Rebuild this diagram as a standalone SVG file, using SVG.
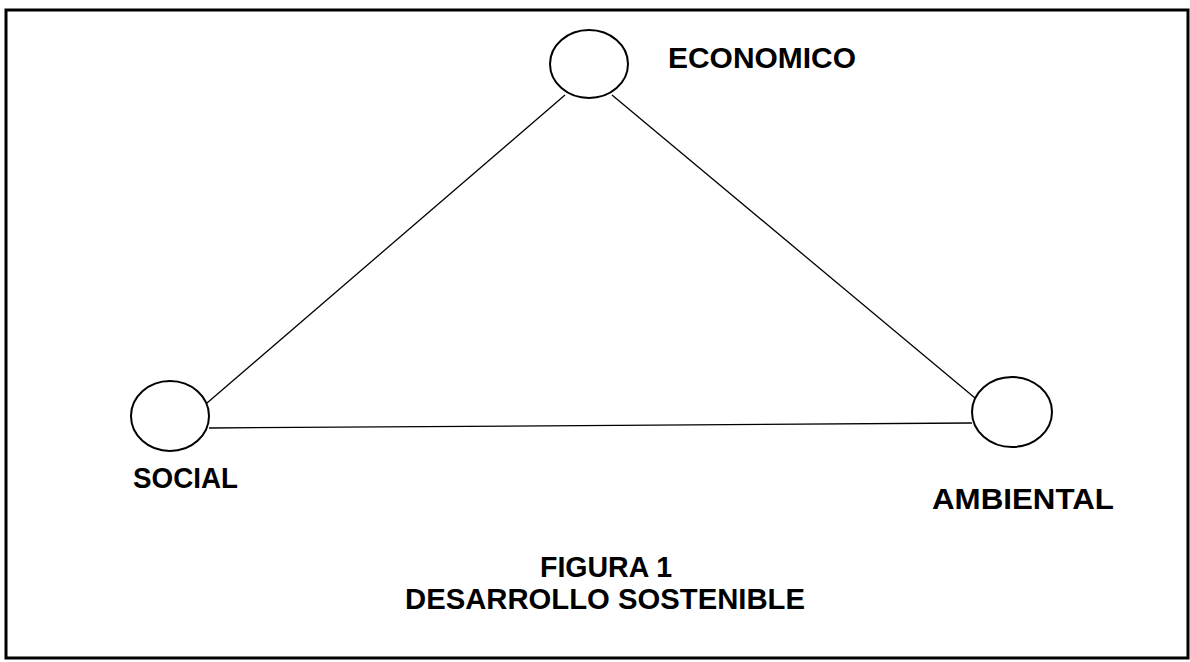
<svg xmlns="http://www.w3.org/2000/svg" width="1190" height="662" viewBox="0 0 1190 662">
<style>
.n{fill:#fff;stroke:#000;stroke-width:2}
.c{stroke:#000;stroke-width:1.3;fill:none}
.t{font-family:"Liberation Sans",Arial,sans-serif;font-weight:bold;font-size:29px;fill:#000}
</style>
<rect x="0" y="0" width="1190" height="662" fill="#fff"/>
<path d="M6,658 L6,10 L1188,10 L1188,658 Z" fill="none" stroke="#000" stroke-width="3"/>
<g id="connectors">
<line class="c" x1="207" y1="403" x2="565" y2="95"/>
<line class="c" x1="612" y1="95" x2="975" y2="398"/>
<line class="c" x1="209" y1="428" x2="972" y2="423"/>
</g>
<g id="economico">
<ellipse class="n" cx="589" cy="64" rx="39" ry="34"/>
<text class="t" x="668" y="68" textLength="188" lengthAdjust="spacingAndGlyphs">ECONOMICO</text>
</g>
<g id="social">
<ellipse class="n" cx="170" cy="416" rx="39" ry="35"/>
<text class="t" x="133" y="488" textLength="105" lengthAdjust="spacingAndGlyphs">SOCIAL</text>
</g>
<g id="ambiental">
<ellipse class="n" cx="1012" cy="412" rx="40" ry="35"/>
<text class="t" x="932" y="509" textLength="182" lengthAdjust="spacingAndGlyphs">AMBIENTAL</text>
</g>
<g id="title">
<text class="t" x="540" y="577" textLength="132" lengthAdjust="spacingAndGlyphs">FIGURA 1</text>
<text class="t" x="405" y="609" textLength="400" lengthAdjust="spacingAndGlyphs">DESARROLLO SOSTENIBLE</text>
</g>
</svg>
